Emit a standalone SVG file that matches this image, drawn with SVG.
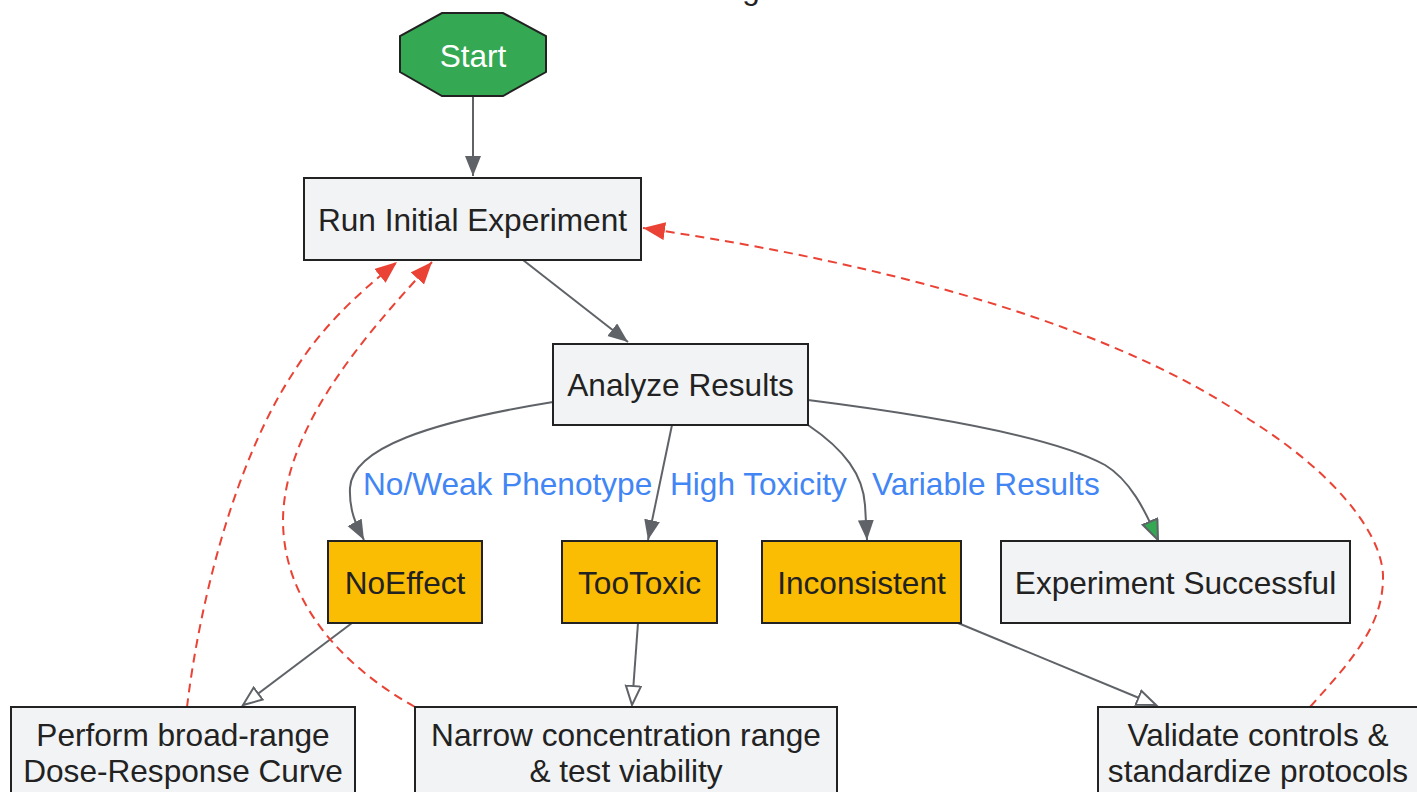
<svg xmlns="http://www.w3.org/2000/svg" width="1417" height="792" viewBox="0 0 1417 792">
<defs>
<style>
text{font-family:"Liberation Sans",Arial,sans-serif;font-size:31.6px;fill:#222;text-anchor:middle}
.box{fill:#f1f3f4;stroke:#222;stroke-width:2}
.warn{fill:#fbbc04;stroke:#222;stroke-width:2}
.e{fill:none;stroke:#5f6368;stroke-width:2}
.r{fill:none;stroke:#ea4335;stroke-width:2;stroke-dasharray:9,6}
.lbl{fill:#4285f4;text-anchor:start}
</style>
<marker id="ag" markerUnits="userSpaceOnUse" markerWidth="22" markerHeight="18" refX="20" refY="8" orient="auto"><path d="M0,0 L20,8 L0,16 z" fill="#5f6368"/></marker>
<marker id="agr" markerUnits="userSpaceOnUse" markerWidth="24" markerHeight="20" refX="21" refY="9" orient="auto"><path d="M1,1 L21,9 L1,17 z" fill="#34a853" stroke="#5f6368" stroke-width="2"/></marker>
<marker id="ao" markerUnits="userSpaceOnUse" markerWidth="24" markerHeight="20" refX="20" refY="9" orient="auto"><path d="M1,1.5 L20,9 L1,16.5 z" fill="#fff" stroke="#5f6368" stroke-width="2"/></marker>
<marker id="ar" markerUnits="userSpaceOnUse" markerWidth="24" markerHeight="20" refX="22" refY="9" orient="auto"><path d="M0,0 L22,9 L0,18 z" fill="#ea4335"/></marker>
</defs>
<rect width="1417" height="792" fill="#fff"/>
<text x="751" y="-1.5">g</text>
<g id="edges">
<path class="e" d="M473,96 L473,176" marker-end="url(#ag)"/>
<path class="e" d="M523,260 L628,342" marker-end="url(#ag)"/>
<path class="e" d="M553,402 C430,422 352,448 350,488 C349,510 356,525 364,540" marker-end="url(#ag)"/>
<path class="e" d="M672,425 L648,540" marker-end="url(#ag)"/>
<path class="e" d="M808,425 C845,450 863,475 865,505 L867,540" marker-end="url(#ag)"/>
<path class="e" d="M808,400 C950,418 1060,440 1105,465 C1130,480 1145,510 1158,540" marker-end="url(#agr)"/>
<path class="e" d="M352,623 L243,705" marker-end="url(#ao)"/>
<path class="e" d="M638,623 L632,705" marker-end="url(#ao)"/>
<path class="e" d="M958,623 L1156,705" marker-end="url(#ao)"/>
<path class="r" d="M187,707 C200,600 235,460 295,370 C325,322 365,288 397,262" marker-end="url(#ar)"/>
<path class="r" d="M415,707 C340,665 283,600 283,520 C284,420 380,320 432,262" marker-end="url(#ar)"/>
<path class="r" d="M1310,707 C1352,660 1384,625 1383,575 C1381,530 1330,470 1250,420 C1120,330 900,265 643,228" marker-end="url(#ar)"/>
<text class="lbl" x="363" y="495">No/Weak Phenotype</text>
<text class="lbl" x="670" y="495">High Toxicity</text>
<text class="lbl" x="872" y="495">Variable Results</text>
</g>
<g id="start"><polygon points="442,13 503,13 546,36 546,72 503,96 442,96 400,72 400,36" fill="#34a853" stroke="#222" stroke-width="2"/><text x="473" y="67" style="fill:#fff">Start</text></g>
<g id="run"><rect class="box" x="304" y="178" width="337" height="82"/><text x="472.5" y="231">Run Initial Experiment</text></g>
<g id="analyze"><rect class="box" x="553" y="344" width="255" height="81"/><text x="680.5" y="396">Analyze Results</text></g>
<g id="noeffect"><rect class="warn" x="328" y="541" width="154" height="82"/><text x="405" y="594">NoEffect</text></g>
<g id="tootoxic"><rect class="warn" x="562" y="541" width="155" height="82"/><text x="639.5" y="594">TooToxic</text></g>
<g id="inconsistent"><rect class="warn" x="762" y="541" width="199" height="82"/><text x="861.5" y="594">Inconsistent</text></g>
<g id="success"><rect class="box" x="1001" y="541" width="349" height="82"/><text x="1175.5" y="594">Experiment Successful</text></g>
<g id="doseresponse"><rect class="box" x="11" y="707" width="344" height="100"/><text x="183" y="746">Perform broad-range</text><text x="183" y="782">Dose-Response Curve</text></g>
<g id="narrow"><rect class="box" x="415" y="707" width="422" height="100"/><text x="626" y="746">Narrow concentration range</text><text x="626" y="782">&amp; test viability</text></g>
<g id="validate"><rect class="box" x="1098" y="707" width="330" height="100"/><text x="1258" y="746">Validate controls &amp;</text><text x="1258" y="782">standardize protocols</text></g>
</svg>
